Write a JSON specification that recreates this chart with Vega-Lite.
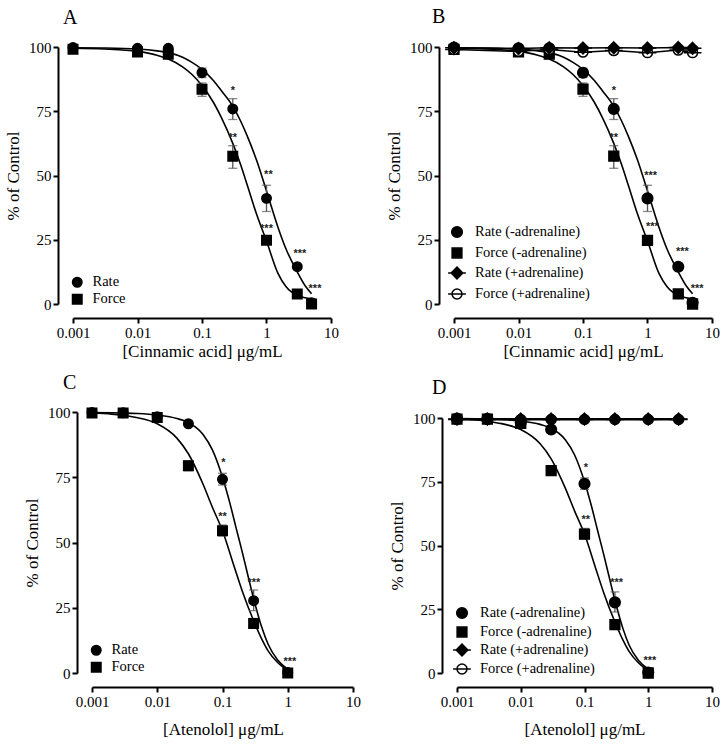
{
"$schema":"https://vega.github.io/schema/vega-lite/v6.json",
"padding":{"left":4,"top":6,"right":2,"bottom":2},
"background":"white",
"datasets":{
"pts":[
{"g":"cin","series":"Rate (-adrenaline)","x":0.001,"y":99.8},
{"g":"cin","series":"Rate (-adrenaline)","x":0.01,"y":99.5},
{"g":"cin","series":"Rate (-adrenaline)","x":0.03,"y":99.5},
{"g":"cin","series":"Rate (-adrenaline)","x":0.1,"y":90,"lo":88.1,"hi":91.8},
{"g":"cin","series":"Rate (-adrenaline)","x":0.3,"y":75.9,"lo":71.8,"hi":79.9},
{"g":"cin","series":"Rate (-adrenaline)","x":1,"y":41.1,"lo":36,"hi":46.2},
{"g":"cin","series":"Rate (-adrenaline)","x":3,"y":14.5},
{"g":"cin","series":"Rate (-adrenaline)","x":5,"y":0.5},
{"g":"cin","series":"Force (-adrenaline)","x":0.001,"y":99.1},
{"g":"cin","series":"Force (-adrenaline)","x":0.01,"y":98.1},
{"g":"cin","series":"Force (-adrenaline)","x":0.03,"y":97.2},
{"g":"cin","series":"Force (-adrenaline)","x":0.1,"y":83.6,"lo":80.8,"hi":86},
{"g":"cin","series":"Force (-adrenaline)","x":0.3,"y":57.5,"lo":52.8,"hi":61.6},
{"g":"cin","series":"Force (-adrenaline)","x":1,"y":24.8,"lo":23.3,"hi":26.3},
{"g":"cin","series":"Force (-adrenaline)","x":3,"y":3.9},
{"g":"cin","series":"Force (-adrenaline)","x":5,"y":0},
{"g":"cin","series":"Force (+adrenaline)","x":0.001,"y":99},
{"g":"cin","series":"Force (+adrenaline)","x":0.01,"y":98.3},
{"g":"cin","series":"Force (+adrenaline)","x":0.03,"y":99},
{"g":"cin","series":"Force (+adrenaline)","x":0.1,"y":98},
{"g":"cin","series":"Force (+adrenaline)","x":0.3,"y":98.6},
{"g":"cin","series":"Force (+adrenaline)","x":1,"y":97.8},
{"g":"cin","series":"Force (+adrenaline)","x":3,"y":98.8},
{"g":"cin","series":"Force (+adrenaline)","x":5,"y":97.8},
{"g":"cin","series":"Rate (+adrenaline)","x":0.001,"y":99.7},
{"g":"cin","series":"Rate (+adrenaline)","x":0.01,"y":99.4},
{"g":"cin","series":"Rate (+adrenaline)","x":0.03,"y":99.7},
{"g":"cin","series":"Rate (+adrenaline)","x":0.1,"y":99.6},
{"g":"cin","series":"Rate (+adrenaline)","x":0.3,"y":99.7},
{"g":"cin","series":"Rate (+adrenaline)","x":1,"y":99.6},
{"g":"cin","series":"Rate (+adrenaline)","x":3,"y":99.8},
{"g":"cin","series":"Rate (+adrenaline)","x":5,"y":99.5},
{"g":"ate","series":"Rate (-adrenaline)","x":0.001,"y":99.8},
{"g":"ate","series":"Rate (-adrenaline)","x":0.003,"y":99.7},
{"g":"ate","series":"Rate (-adrenaline)","x":0.01,"y":98.2},
{"g":"ate","series":"Rate (-adrenaline)","x":0.03,"y":95.5},
{"g":"ate","series":"Rate (-adrenaline)","x":0.1,"y":74.2,"lo":72,"hi":76.5},
{"g":"ate","series":"Rate (-adrenaline)","x":0.3,"y":27.7,"lo":23.9,"hi":31.8},
{"g":"ate","series":"Rate (-adrenaline)","x":1,"y":0.2},
{"g":"ate","series":"Force (-adrenaline)","x":0.001,"y":99.6},
{"g":"ate","series":"Force (-adrenaline)","x":0.003,"y":99.6},
{"g":"ate","series":"Force (-adrenaline)","x":0.01,"y":97.9},
{"g":"ate","series":"Force (-adrenaline)","x":0.03,"y":79.4,"lo":77.5,"hi":81.3},
{"g":"ate","series":"Force (-adrenaline)","x":0.1,"y":54.5,"lo":52.5,"hi":56.7},
{"g":"ate","series":"Force (-adrenaline)","x":0.3,"y":19,"lo":17.1,"hi":20.9},
{"g":"ate","series":"Force (-adrenaline)","x":1,"y":0},
{"g":"ate","series":"Force (+adrenaline)","x":0.001,"y":99.4},
{"g":"ate","series":"Force (+adrenaline)","x":0.003,"y":99.4},
{"g":"ate","series":"Force (+adrenaline)","x":0.01,"y":99.4},
{"g":"ate","series":"Force (+adrenaline)","x":0.03,"y":99.4},
{"g":"ate","series":"Force (+adrenaline)","x":0.1,"y":99.4},
{"g":"ate","series":"Force (+adrenaline)","x":0.3,"y":99.4},
{"g":"ate","series":"Force (+adrenaline)","x":1,"y":99.4},
{"g":"ate","series":"Force (+adrenaline)","x":3,"y":99.4},
{"g":"ate","series":"Rate (+adrenaline)","x":0.001,"y":99.6},
{"g":"ate","series":"Rate (+adrenaline)","x":0.003,"y":99.6},
{"g":"ate","series":"Rate (+adrenaline)","x":0.01,"y":99.6},
{"g":"ate","series":"Rate (+adrenaline)","x":0.03,"y":99.6},
{"g":"ate","series":"Rate (+adrenaline)","x":0.1,"y":99.6},
{"g":"ate","series":"Rate (+adrenaline)","x":0.3,"y":99.6},
{"g":"ate","series":"Rate (+adrenaline)","x":1,"y":99.6},
{"g":"ate","series":"Rate (+adrenaline)","x":3,"y":99.6}
],
"curves":[
{"g":"cin","curve":"rate","x":0.001,"y":99.7},{"g":"cin","curve":"rate","x":0.003,"y":99.6},{"g":"cin","curve":"rate","x":0.01,"y":99.2},{"g":"cin","curve":"rate","x":0.02,"y":98.5},{"g":"cin","curve":"rate","x":0.03,"y":97.8},{"g":"cin","curve":"rate","x":0.05,"y":96},{"g":"cin","curve":"rate","x":0.07,"y":94},{"g":"cin","curve":"rate","x":0.1,"y":91.3},{"g":"cin","curve":"rate","x":0.15,"y":87},{"g":"cin","curve":"rate","x":0.2,"y":83},{"g":"cin","curve":"rate","x":0.3,"y":77},{"g":"cin","curve":"rate","x":0.4,"y":71},{"g":"cin","curve":"rate","x":0.5,"y":65.5},{"g":"cin","curve":"rate","x":0.7,"y":56},{"g":"cin","curve":"rate","x":1,"y":44},{"g":"cin","curve":"rate","x":1.5,"y":30},{"g":"cin","curve":"rate","x":2,"y":21.5},{"g":"cin","curve":"rate","x":3,"y":12.5},{"g":"cin","curve":"rate","x":4,"y":7},{"g":"cin","curve":"rate","x":5,"y":4},
{"g":"cin","curve":"force","x":0.001,"y":99.5},{"g":"cin","curve":"force","x":0.003,"y":99.2},{"g":"cin","curve":"force","x":0.01,"y":98.3},{"g":"cin","curve":"force","x":0.02,"y":96.8},{"g":"cin","curve":"force","x":0.03,"y":95.3},{"g":"cin","curve":"force","x":0.05,"y":92.3},{"g":"cin","curve":"force","x":0.07,"y":89.3},{"g":"cin","curve":"force","x":0.1,"y":85},{"g":"cin","curve":"force","x":0.15,"y":78.5},{"g":"cin","curve":"force","x":0.2,"y":72.5},{"g":"cin","curve":"force","x":0.3,"y":62.5},{"g":"cin","curve":"force","x":0.4,"y":54},{"g":"cin","curve":"force","x":0.5,"y":46.5},{"g":"cin","curve":"force","x":0.7,"y":35},{"g":"cin","curve":"force","x":1,"y":24.5},{"g":"cin","curve":"force","x":1.5,"y":12},{"g":"cin","curve":"force","x":2,"y":6.8},{"g":"cin","curve":"force","x":3,"y":3.3},{"g":"cin","curve":"force","x":4,"y":2.4},{"g":"cin","curve":"force","x":5,"y":2},
{"g":"ate","curve":"rate","x":0.001,"y":99.8},{"g":"ate","curve":"rate","x":0.002,"y":99.7},{"g":"ate","curve":"rate","x":0.003,"y":99.6},{"g":"ate","curve":"rate","x":0.005,"y":99.4},{"g":"ate","curve":"rate","x":0.01,"y":98.8},{"g":"ate","curve":"rate","x":0.02,"y":97.5},{"g":"ate","curve":"rate","x":0.03,"y":96},{"g":"ate","curve":"rate","x":0.05,"y":91.5},{"g":"ate","curve":"rate","x":0.07,"y":85.5},{"g":"ate","curve":"rate","x":0.1,"y":75},{"g":"ate","curve":"rate","x":0.13,"y":65},{"g":"ate","curve":"rate","x":0.16,"y":56},{"g":"ate","curve":"rate","x":0.2,"y":46.5},{"g":"ate","curve":"rate","x":0.25,"y":36.5},{"g":"ate","curve":"rate","x":0.3,"y":28.5},{"g":"ate","curve":"rate","x":0.4,"y":17.5},{"g":"ate","curve":"rate","x":0.5,"y":11},{"g":"ate","curve":"rate","x":0.7,"y":5},{"g":"ate","curve":"rate","x":1,"y":1.5},
{"g":"ate","curve":"force","x":0.001,"y":99.6},{"g":"ate","curve":"force","x":0.002,"y":99.2},{"g":"ate","curve":"force","x":0.003,"y":98.7},{"g":"ate","curve":"force","x":0.005,"y":97.8},{"g":"ate","curve":"force","x":0.01,"y":95.5},{"g":"ate","curve":"force","x":0.02,"y":90},{"g":"ate","curve":"force","x":0.03,"y":84},{"g":"ate","curve":"force","x":0.05,"y":72.5},{"g":"ate","curve":"force","x":0.07,"y":63.5},{"g":"ate","curve":"force","x":0.1,"y":54.5},{"g":"ate","curve":"force","x":0.15,"y":41},{"g":"ate","curve":"force","x":0.2,"y":31.5},{"g":"ate","curve":"force","x":0.3,"y":20},{"g":"ate","curve":"force","x":0.4,"y":13},{"g":"ate","curve":"force","x":0.5,"y":8.5},{"g":"ate","curve":"force","x":0.7,"y":4},{"g":"ate","curve":"force","x":1,"y":1}
],
"stars":[
{"p":"A","x":0.3,"y":83,"t":"*"},{"p":"A","x":0.3,"y":64.5,"t":"**"},{"p":"A","x":1.07,"y":50.2,"t":"**"},{"p":"A","x":1,"y":29,"t":"***"},{"p":"A","x":3.3,"y":19.5,"t":"***"},{"p":"A","x":5.65,"y":5.7,"t":"***"},
{"p":"B","x":0.3,"y":83,"t":"*"},{"p":"B","x":0.3,"y":64.5,"t":"**"},{"p":"B","x":1.12,"y":49.8,"t":"***"},{"p":"B","x":1.19,"y":30,"t":"***"},{"p":"B","x":3.47,"y":20.4,"t":"***"},{"p":"B","x":5.9,"y":5.7,"t":"***"},
{"p":"C","x":0.103,"y":80.3,"t":"*"},{"p":"C","x":0.1,"y":59.9,"t":"**"},{"p":"C","x":0.303,"y":34.4,"t":"***"},{"p":"C","x":1.08,"y":4.2,"t":"***"},
{"p":"D","x":0.105,"y":80.3,"t":"*"},{"p":"D","x":0.105,"y":60,"t":"**"},{"p":"D","x":0.32,"y":35.2,"t":"***"},{"p":"D","x":1.06,"y":4.8,"t":"***"}
]
},
"concat":[
{"hconcat":[
{"width":258,"height":257,"title":{"text":"A","dx":-10,"offset":12},
"layer":[
{"data":{"name":"curves"},"transform":[{"filter":"datum.g=='cin'"}],"mark":{"type":"line","interpolate":"monotone","color":"black","strokeWidth":1.6},
"encoding":{"x":{"field":"x","type":"quantitative","scale":{"type":"log","domain":[0.001,10],"nice":false},"axis":{"values":[0.001,0.01,0.1,1,10],"format":"~g","labelFlush":false,"labelOverlap":false,"offset":14},"title":"[Cinnamic acid] μg/mL"},
"y":{"field":"y","type":"quantitative","scale":{"domain":[0,100],"nice":false},"axis":{"values":[0,25,50,75,100],"offset":15,"labelOverlap":false},"title":"% of Control"},"detail":{"field":"curve"}}},
{"data":{"name":"pts"},"transform":[{"filter":"datum.g=='cin' && isValid(datum.lo)"}],"mark":{"type":"rule","color":"#555","strokeWidth":1.3},
"encoding":{"x":{"field":"x","type":"quantitative","title":"[Cinnamic acid] μg/mL"},"y":{"field":"lo","type":"quantitative","title":"% of Control"},"y2":{"field":"hi"}}},
{"data":{"name":"pts"},"transform":[{"filter":"datum.g=='cin' && isValid(datum.lo)"}],"mark":{"type":"tick","orient":"horizontal","size":9,"thickness":1.3,"color":"#555"},
"encoding":{"x":{"field":"x","type":"quantitative","title":"[Cinnamic acid] μg/mL"},"y":{"field":"lo","type":"quantitative","title":"% of Control"}}},
{"data":{"name":"pts"},"transform":[{"filter":"datum.g=='cin' && isValid(datum.lo)"}],"mark":{"type":"tick","orient":"horizontal","size":9,"thickness":1.3,"color":"#555"},
"encoding":{"x":{"field":"x","type":"quantitative","title":"[Cinnamic acid] μg/mL"},"y":{"field":"hi","type":"quantitative","title":"% of Control"}}},
{"data":{"name":"pts"},"transform":[{"filter":"datum.g=='cin' && indexof(datum.series,'-')>=0"}],"mark":{"type":"point","filled":true,"size":90,"strokeWidth":1.5,"opacity":1},
"encoding":{"x":{"field":"x","type":"quantitative","title":"[Cinnamic acid] μg/mL"},"y":{"field":"y","type":"quantitative","title":"% of Control"},
"shape":{"field":"series","type":"nominal","title":null,"scale":{"domain":["Rate (-adrenaline)","Force (-adrenaline)"],"range":["circle","square"]},"legend":{"labelExpr":"replace(datum.label,' (-adrenaline)','')"}},
"fill":{"field":"series","type":"nominal","title":null,"scale":{"domain":["Rate (-adrenaline)","Force (-adrenaline)"],"range":["black","black"]},"legend":{"labelExpr":"replace(datum.label,' (-adrenaline)','')"}},
"stroke":{"field":"series","type":"nominal","title":null,"scale":{"domain":["Rate (-adrenaline)","Force (-adrenaline)"],"range":["black","black"]},"legend":{"labelExpr":"replace(datum.label,' (-adrenaline)','')"}}}},
{"data":{"name":"stars"},"transform":[{"filter":"datum.p=='A'"}],"mark":{"type":"text","font":"Liberation Sans","fontWeight":"bold","fontSize":11,"color":"#222","baseline":"middle"},
"encoding":{"x":{"field":"x","type":"quantitative","title":"[Cinnamic acid] μg/mL"},"y":{"field":"y","type":"quantitative","title":"% of Control"},"text":{"field":"t"}}}
]},
{"width":258,"height":257,"title":{"text":"B","dx":-22,"offset":12},
"layer":[
{"data":{"name":"curves"},"transform":[{"filter":"datum.g=='cin'"}],"mark":{"type":"line","interpolate":"monotone","color":"black","strokeWidth":1.6},
"encoding":{"x":{"field":"x","type":"quantitative","scale":{"type":"log","domain":[0.001,10],"nice":false},"axis":{"values":[0.001,0.01,0.1,1,10],"format":"~g","labelFlush":false,"labelOverlap":false,"offset":14},"title":"[Cinnamic acid] μg/mL"},
"y":{"field":"y","type":"quantitative","scale":{"domain":[0,100],"nice":false},"axis":{"values":[0,25,50,75,100],"offset":15,"labelOverlap":false},"title":"% of Control"},"detail":{"field":"curve"}}},
{"data":{"name":"pts"},"transform":[{"filter":"datum.g=='cin' && indexof(datum.series,'+')>=0"}],"mark":{"type":"line","color":"black","strokeWidth":1.5},
"encoding":{"x":{"field":"x","type":"quantitative","title":"[Cinnamic acid] μg/mL"},"y":{"field":"y","type":"quantitative","title":"% of Control"},"detail":{"field":"series"}}},
{"data":{"name":"pts"},"transform":[{"filter":"datum.g=='cin' && isValid(datum.lo)"}],"mark":{"type":"rule","color":"#555","strokeWidth":1.3},
"encoding":{"x":{"field":"x","type":"quantitative","title":"[Cinnamic acid] μg/mL"},"y":{"field":"lo","type":"quantitative","title":"% of Control"},"y2":{"field":"hi"}}},
{"data":{"name":"pts"},"transform":[{"filter":"datum.g=='cin' && isValid(datum.lo)"}],"mark":{"type":"tick","orient":"horizontal","size":9,"thickness":1.3,"color":"#555"},
"encoding":{"x":{"field":"x","type":"quantitative","title":"[Cinnamic acid] μg/mL"},"y":{"field":"lo","type":"quantitative","title":"% of Control"}}},
{"data":{"name":"pts"},"transform":[{"filter":"datum.g=='cin' && isValid(datum.lo)"}],"mark":{"type":"tick","orient":"horizontal","size":9,"thickness":1.3,"color":"#555"},
"encoding":{"x":{"field":"x","type":"quantitative","title":"[Cinnamic acid] μg/mL"},"y":{"field":"hi","type":"quantitative","title":"% of Control"}}},
{"data":{"name":"pts"},"transform":[{"filter":"datum.g=='cin'"}],"mark":{"type":"point","filled":true,"size":315,"strokeWidth":1.5,"opacity":1},
"encoding":{"x":{"field":"x","type":"quantitative","title":"[Cinnamic acid] μg/mL"},"y":{"field":"y","type":"quantitative","title":"% of Control"},
"shape":{"field":"series","type":"nominal","title":null,"scale":{"domain":["Rate (-adrenaline)","Force (-adrenaline)","Rate (+adrenaline)","Force (+adrenaline)"],"range":["M-0.6,0A0.6,0.6 0 1,1 0.6,0A0.6,0.6 0 1,1 -0.6,0Z","M-0.55,-0.55L0.55,-0.55L0.55,0.55L-0.55,0.55Z","M0,-0.66L0.66,0L0,0.66L-0.66,0ZM-1,0L1,0","M-0.56,0A0.56,0.56 0 1,1 0.56,0A0.56,0.56 0 1,1 -0.56,0ZM-1,0L1,0"]},"legend":{"rowPadding":2,"symbolSize":315,"orient":"none","legendX":-7,"legendY":175}},
"fill":{"field":"series","type":"nominal","title":null,"scale":{"domain":["Rate (-adrenaline)","Force (-adrenaline)","Rate (+adrenaline)","Force (+adrenaline)"],"range":["black","black","black","white"]},"legend":{"rowPadding":2,"symbolSize":315,"orient":"none","legendX":-7,"legendY":175}},
"stroke":{"field":"series","type":"nominal","title":null,"scale":{"domain":["Rate (-adrenaline)","Force (-adrenaline)","Rate (+adrenaline)","Force (+adrenaline)"],"range":["black","black","black","black"]},"legend":{"rowPadding":2,"symbolSize":315,"orient":"none","legendX":-7,"legendY":175}}}},
{"data":{"name":"stars"},"transform":[{"filter":"datum.p=='B'"}],"mark":{"type":"text","font":"Liberation Sans","fontWeight":"bold","fontSize":11,"color":"#222","baseline":"middle"},
"encoding":{"x":{"field":"x","type":"quantitative","title":"[Cinnamic acid] μg/mL"},"y":{"field":"y","type":"quantitative","title":"% of Control"},"text":{"field":"t"}}}
]}
],"spacing":46,"resolve":{"scale":{"x":"independent","y":"independent","shape":"independent","fill":"independent","stroke":"independent"},"legend":{"shape":"independent","fill":"independent","stroke":"independent"}}},
{"hconcat":[
{"width":280,"height":261,"title":{"text":"C","dx":-10,"offset":12},
"layer":[
{"data":{"name":"curves"},"transform":[{"filter":"datum.g=='ate'"}],"mark":{"type":"line","interpolate":"monotone","color":"black","strokeWidth":1.6},
"encoding":{"x":{"field":"x","type":"quantitative","scale":{"type":"log","domain":[0.001,10],"nice":false,"range":[19,280]},"axis":{"values":[0.001,0.01,0.1,1,10],"format":"~g","labelFlush":false,"labelOverlap":false,"offset":14,"titleX":150,"titlePadding":12},"title":"[Atenolol] μg/mL"},
"y":{"field":"y","type":"quantitative","scale":{"domain":[0,100],"nice":false},"axis":{"values":[0,25,50,75,100],"offset":-4,"labelOverlap":false},"title":"% of Control"},"detail":{"field":"curve"}}},
{"data":{"name":"pts"},"transform":[{"filter":"datum.g=='ate' && isValid(datum.lo)"}],"mark":{"type":"rule","color":"#555","strokeWidth":1.3},
"encoding":{"x":{"field":"x","type":"quantitative","title":"[Atenolol] μg/mL"},"y":{"field":"lo","type":"quantitative","title":"% of Control"},"y2":{"field":"hi"}}},
{"data":{"name":"pts"},"transform":[{"filter":"datum.g=='ate' && isValid(datum.lo)"}],"mark":{"type":"tick","orient":"horizontal","size":9,"thickness":1.3,"color":"#555"},
"encoding":{"x":{"field":"x","type":"quantitative","title":"[Atenolol] μg/mL"},"y":{"field":"lo","type":"quantitative","title":"% of Control"}}},
{"data":{"name":"pts"},"transform":[{"filter":"datum.g=='ate' && isValid(datum.lo)"}],"mark":{"type":"tick","orient":"horizontal","size":9,"thickness":1.3,"color":"#555"},
"encoding":{"x":{"field":"x","type":"quantitative","title":"[Atenolol] μg/mL"},"y":{"field":"hi","type":"quantitative","title":"% of Control"}}},
{"data":{"name":"pts"},"transform":[{"filter":"datum.g=='ate' && indexof(datum.series,'-')>=0"}],"mark":{"type":"point","filled":true,"size":90,"strokeWidth":1.5,"opacity":1},
"encoding":{"x":{"field":"x","type":"quantitative","title":"[Atenolol] μg/mL"},"y":{"field":"y","type":"quantitative","title":"% of Control"},
"shape":{"field":"series","type":"nominal","title":null,"scale":{"domain":["Rate (-adrenaline)","Force (-adrenaline)"],"range":["circle","square"]},"legend":{"labelExpr":"replace(datum.label,' (-adrenaline)','')","orient":"none","legendX":16,"legendY":231}},
"fill":{"field":"series","type":"nominal","title":null,"scale":{"domain":["Rate (-adrenaline)","Force (-adrenaline)"],"range":["black","black"]},"legend":{"labelExpr":"replace(datum.label,' (-adrenaline)','')","orient":"none","legendX":16,"legendY":231}},
"stroke":{"field":"series","type":"nominal","title":null,"scale":{"domain":["Rate (-adrenaline)","Force (-adrenaline)"],"range":["black","black"]},"legend":{"labelExpr":"replace(datum.label,' (-adrenaline)','')","orient":"none","legendX":16,"legendY":231}}}},
{"data":{"name":"stars"},"transform":[{"filter":"datum.p=='C'"}],"mark":{"type":"text","font":"Liberation Sans","fontWeight":"bold","fontSize":11,"color":"#222","baseline":"middle"},
"encoding":{"x":{"field":"x","type":"quantitative","title":"[Atenolol] μg/mL"},"y":{"field":"y","type":"quantitative","title":"% of Control"},"text":{"field":"t"}}}
]},
{"width":255,"height":261,"title":{"text":"D","dx":-25,"offset":12},
"layer":[
{"data":{"name":"curves"},"transform":[{"filter":"datum.g=='ate'"}],"mark":{"type":"line","interpolate":"monotone","color":"black","strokeWidth":1.6},
"encoding":{"x":{"field":"x","type":"quantitative","scale":{"type":"log","domain":[0.001,10],"nice":false},"axis":{"values":[0.001,0.01,0.1,1,10],"format":"~g","labelFlush":false,"labelOverlap":false,"offset":14,"titlePadding":12},"title":"[Atenolol] μg/mL"},
"y":{"field":"y","type":"quantitative","scale":{"domain":[0,100],"nice":false,"range":[261,6]},"axis":{"values":[0,25,50,75,100],"offset":15,"labelOverlap":false},"title":"% of Control"},"detail":{"field":"curve"}}},
{"data":{"name":"pts"},"transform":[{"filter":"datum.g=='ate' && indexof(datum.series,'+')>=0"}],"mark":{"type":"line","color":"black","strokeWidth":1.8},
"encoding":{"x":{"field":"x","type":"quantitative","title":"[Atenolol] μg/mL"},"y":{"field":"y","type":"quantitative","title":"% of Control"},"detail":{"field":"series"}}},
{"data":{"name":"pts"},"transform":[{"filter":"datum.g=='ate' && isValid(datum.lo)"}],"mark":{"type":"rule","color":"#555","strokeWidth":1.3},
"encoding":{"x":{"field":"x","type":"quantitative","title":"[Atenolol] μg/mL"},"y":{"field":"lo","type":"quantitative","title":"% of Control"},"y2":{"field":"hi"}}},
{"data":{"name":"pts"},"transform":[{"filter":"datum.g=='ate' && isValid(datum.lo)"}],"mark":{"type":"tick","orient":"horizontal","size":9,"thickness":1.3,"color":"#555"},
"encoding":{"x":{"field":"x","type":"quantitative","title":"[Atenolol] μg/mL"},"y":{"field":"lo","type":"quantitative","title":"% of Control"}}},
{"data":{"name":"pts"},"transform":[{"filter":"datum.g=='ate' && isValid(datum.lo)"}],"mark":{"type":"tick","orient":"horizontal","size":9,"thickness":1.3,"color":"#555"},
"encoding":{"x":{"field":"x","type":"quantitative","title":"[Atenolol] μg/mL"},"y":{"field":"hi","type":"quantitative","title":"% of Control"}}},
{"data":{"name":"pts"},"transform":[{"filter":"datum.g=='ate'"}],"mark":{"type":"point","filled":true,"size":315,"strokeWidth":1.5,"opacity":1},
"encoding":{"x":{"field":"x","type":"quantitative","title":"[Atenolol] μg/mL"},"y":{"field":"y","type":"quantitative","title":"% of Control"},
"shape":{"field":"series","type":"nominal","title":null,"scale":{"domain":["Rate (-adrenaline)","Force (-adrenaline)","Rate (+adrenaline)","Force (+adrenaline)"],"range":["M-0.6,0A0.6,0.6 0 1,1 0.6,0A0.6,0.6 0 1,1 -0.6,0Z","M-0.55,-0.55L0.55,-0.55L0.55,0.55L-0.55,0.55Z","M0,-0.66L0.66,0L0,0.66L-0.66,0ZM-1,0L1,0","M-0.56,0A0.56,0.56 0 1,1 0.56,0A0.56,0.56 0 1,1 -0.56,0ZM-1,0L1,0"]},"legend":{"rowPadding":0,"symbolSize":315,"orient":"none","legendX":-5,"legendY":191}},
"fill":{"field":"series","type":"nominal","title":null,"scale":{"domain":["Rate (-adrenaline)","Force (-adrenaline)","Rate (+adrenaline)","Force (+adrenaline)"],"range":["black","black","black","white"]},"legend":{"rowPadding":0,"symbolSize":315,"orient":"none","legendX":-5,"legendY":191}},
"stroke":{"field":"series","type":"nominal","title":null,"scale":{"domain":["Rate (-adrenaline)","Force (-adrenaline)","Rate (+adrenaline)","Force (+adrenaline)"],"range":["black","black","black","black"]},"legend":{"rowPadding":0,"symbolSize":315,"orient":"none","legendX":-5,"legendY":191}}}},
{"data":{"name":"stars"},"transform":[{"filter":"datum.p=='D'"}],"mark":{"type":"text","font":"Liberation Sans","fontWeight":"bold","fontSize":11,"color":"#222","baseline":"middle"},
"encoding":{"x":{"field":"x","type":"quantitative","title":"[Atenolol] μg/mL"},"y":{"field":"y","type":"quantitative","title":"% of Control"},"text":{"field":"t"}}}
]}
],"spacing":27,"resolve":{"scale":{"x":"independent","y":"independent","shape":"independent","fill":"independent","stroke":"independent"},"legend":{"shape":"independent","fill":"independent","stroke":"independent"}}}
],
"columns":1,
"spacing":13,
"resolve":{"scale":{"x":"independent","y":"independent","shape":"independent","fill":"independent","stroke":"independent"},"legend":{"shape":"independent","fill":"independent","stroke":"independent"}},
"config":{
"view":{"stroke":null},
"font":"Liberation Serif",
"axis":{"grid":false,"domainColor":"black","domainWidth":2,"tickColor":"black","tickWidth":2,"tickSize":5,"labelFont":"Liberation Serif","labelFontSize":15,"labelColor":"black","labelPadding":2,"titleFont":"Liberation Serif","titleFontSize":17,"titleFontWeight":"normal","titleColor":"black","titlePadding":6},
"axisX":{"titlePadding":3},
"legend":{"orient":"bottom-left","offset":-3,"padding":0,"labelFont":"Liberation Serif","labelFontSize":14.5,"labelColor":"black","symbolSize":90,"rowPadding":1,"labelOffset":8,"symbolStrokeWidth":1.5},
"title":{"anchor":"start","frame":"group","font":"Liberation Serif","fontSize":20,"fontWeight":"normal","color":"black"}
}
}
